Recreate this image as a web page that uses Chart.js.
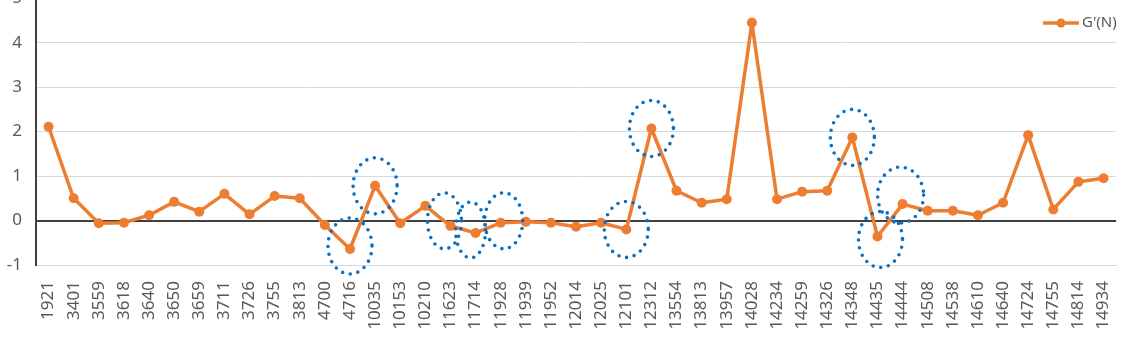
<!DOCTYPE html>
<html>
<head>
<meta charset="utf-8">
<script src="https://cdn.jsdelivr.net/npm/chart.js@4.4.1/dist/chart.umd.min.js"></script>
<style>
  html, body { margin: 0; padding: 0; background: #fff; overflow: hidden; }
  #wrap { position: absolute; left: 0; top: -26px; width: 1140px; height: 371px; }
</style>
</head>
<body>
<div id="wrap"><canvas id="c"></canvas></div>
<script>
const categories = ['1921','3401','3559','3618','3640','3650','3659','3711','3726','3755','3813','4700','4716','10035','10153','10210','11623','11714','11928','11939','11952','12014','12025','12101','12312','13554','13813','13957','14028','14234','14259','14326','14348','14435','14444','14508','14538','14610','14640','14724','14755','14814','14934'];
const seriesName = "G'(N)";
const gValues = [2.11,0.50,-0.06,-0.05,0.12,0.42,0.20,0.60,0.14,0.55,0.50,-0.10,-0.64,0.78,-0.06,0.33,-0.12,-0.28,-0.05,-0.03,-0.05,-0.14,-0.05,-0.20,2.07,0.67,0.40,0.48,4.45,0.48,0.65,0.67,1.87,-0.36,0.37,0.22,0.22,0.12,0.40,1.92,0.25,0.87,0.95];
const circledCategories = ['4716','10035','11623','11714','11928','12101','12312','14348','14435','14444'];
const yTicks = [-1,0,1,2,3,4,5];

const ORANGE = '#ED7D31';
const TEXT = '#595959';

const ellipsePlugin = {
  id: 'ellipses',
  afterDatasetsDraw(chart, args, opts) {
    const ctx = chart.ctx;
    const meta = chart.getDatasetMeta(0);
    ctx.save();
    ctx.strokeStyle = '#0A6FC2';
    ctx.lineWidth = 3.6;
    ctx.lineCap = 'round';
    ctx.setLineDash([0, 7.8]);
    circledCategories.forEach(cat => {
      const i = categories.indexOf(cat);
      if (i < 0) return;
      const p = meta.data[i];
      const o = (opts.adjust && opts.adjust[cat]) || {};
      ctx.beginPath();
      ctx.ellipse(p.x + (o.dx || 0), p.y + (o.dy || 0), o.rx || 22, o.ry || 28, 0, 0, Math.PI * 2);
      ctx.stroke();
    });
    ctx.restore();
  }
};

const legendPlugin = {
  id: 'customLegend',
  afterDraw(chart) {
    const ctx = chart.ctx;
    const y = 49;
    ctx.save();
    ctx.strokeStyle = ORANGE;
    ctx.lineWidth = 3.5;
    ctx.beginPath();
    ctx.moveTo(1043, y);
    ctx.lineTo(1079, y);
    ctx.stroke();
    ctx.fillStyle = ORANGE;
    ctx.beginPath();
    ctx.arc(1061, y, 4.5, 0, Math.PI * 2);
    ctx.fill();
    ctx.fillStyle = TEXT;
    ctx.font = '15px "Noto Sans"';
    ctx.textBaseline = 'middle';
    ctx.fillText(seriesName, 1082, y);
    ctx.restore();
  }
};

new Chart(document.getElementById('c'), {
  type: 'line',
  data: {
    labels: categories,
    datasets: [{
      label: seriesName,
      data: gValues,
      borderColor: ORANGE,
      backgroundColor: ORANGE,
      borderWidth: 3.5,
      borderJoinStyle: 'round',
      pointRadius: 5,
      pointBackgroundColor: ORANGE,
      pointBorderWidth: 0,
      tension: 0
    }]
  },
  options: {
    responsive: true,
    maintainAspectRatio: false,
    animation: false,
    layout: { padding: { top: 0, right: 5, left: 0, bottom: 0 } },
    plugins: {
      legend: { display: false },
      tooltip: { enabled: false },
      ellipses: {
        adjust: {
          '4716': { dy: -3 },
          '11623': { dx: -6, dy: -5, rx: 17 },
          '11714': { dx: -5, dy: -3, rx: 15 },
          '11928': { dx: 3, dy: -2, rx: 19 },
          '14435': { dx: 3, dy: 3 },
          '14444': { dx: -2, dy: -9, rx: 23 }
        }
      }
    },
    scales: {
      x: {
        offset: true,
        grid: { display: false, drawTicks: false },
        border: { color: '#D9D9D9', width: 1 },
        ticks: {
          autoSkip: false,
          maxRotation: 90,
          minRotation: 90,
          padding: 16,
          color: TEXT,
          font: { family: '"Noto Sans"', size: 17 }
        },
        afterFit(s) { s.height = 80; }
      },
      y: {
        min: -1,
        max: 5,
        afterBuildTicks(s) { s.ticks = yTicks.map(v => ({ value: v })); },
        grid: {
          drawTicks: false,
          color: c => c.tick && c.tick.value === 0 ? '#404040' : '#D9D9D9',
          lineWidth: c => c.tick && c.tick.value === 0 ? 2 : 1
        },
        border: { color: '#404040', width: 2 },
        ticks: {
          padding: 14,
          color: TEXT,
          font: { family: '"Noto Sans"', size: 17 }
        },
        afterFit(s) { s.width = 36; }
      }
    }
  },
  plugins: [ellipsePlugin, legendPlugin]
});
</script>
</body>
</html>
